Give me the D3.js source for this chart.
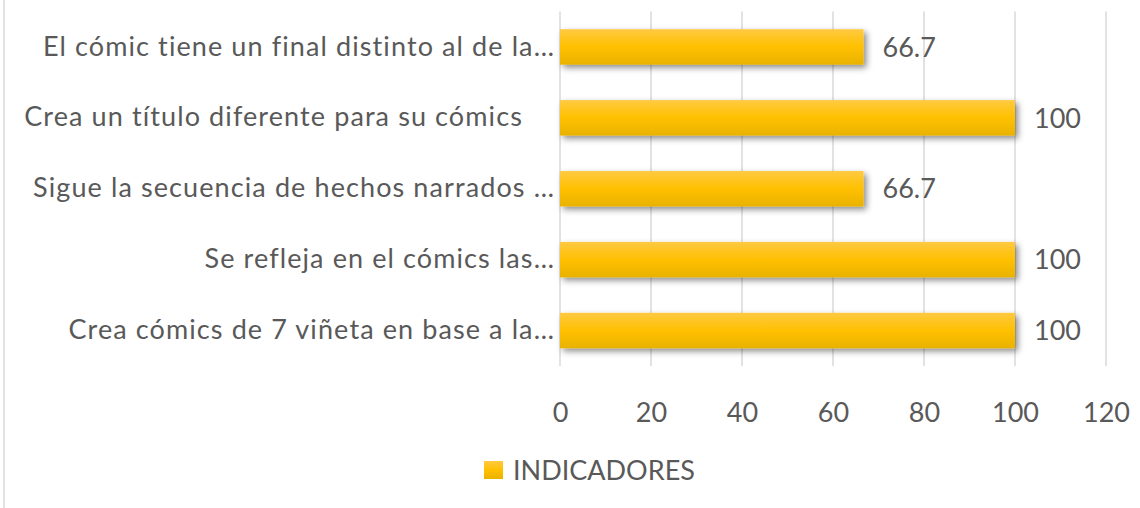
<!DOCTYPE html>
<html>
<head>
<meta charset="utf-8">
<script src="https://cdn.jsdelivr.net/npm/d3@7"></script>
<style>
  body { margin: 0; background: #fff; }
  svg { display: block; font-family: Lato, "Open Sans", sans-serif; }
  .lbl { fill: #595959; font-size: 27px; white-space: pre; }
  .cat { letter-spacing: 1.1px; }
</style>
</head>
<body>
<svg id="chart" width="1140" height="508"></svg>
<script>
const categories = [
  'El cómic tiene un final distinto al de la…',
  'Crea un título diferente para su cómics    ',
  'Sigue la secuencia de hechos narrados …',
  'Se refleja en el cómics las…',
  'Crea cómics de 7 viñeta en base a la…'
];
const values = [66.7, 100, 66.7, 100, 100];
const valueLabels = ['66.7', '100', '66.7', '100', '100'];
const xTicks = [0, 20, 40, 60, 80, 100, 120];
const seriesName = 'INDICADORES';

const PLOT = { left: 560, right: 1106, top: 11.5, bottom: 366 };

const svg = d3.select('#chart');

// outer chart border (only the left edge is inside the picture)
svg.append('line')
  .attr('x1', 4).attr('x2', 4).attr('y1', 0).attr('y2', 508)
  .attr('stroke', '#d9d9d9').attr('stroke-width', 1.5);

const defs = svg.append('defs');
const grad = defs.append('linearGradient')
  .attr('id', 'gold').attr('x1', 0).attr('x2', 0).attr('y1', 0).attr('y2', 1);
grad.append('stop').attr('offset', '0%').attr('stop-color', '#ffc941');
grad.append('stop').attr('offset', '50%').attr('stop-color', '#ffc000');
grad.append('stop').attr('offset', '100%').attr('stop-color', '#e9b200');

const shadow = defs.append('filter').attr('id', 'shadow')
  .attr('x', '-5%').attr('y', '-30%').attr('width', '115%').attr('height', '190%');
shadow.append('feDropShadow')
  .attr('dx', 3).attr('dy', 3).attr('stdDeviation', 3)
  .attr('flood-color', '#000').attr('flood-opacity', 0.45);

const x = d3.scaleLinear().domain([0, 120]).range([PLOT.left, PLOT.right]);
const y = d3.scaleBand().domain(categories).range([PLOT.top, PLOT.bottom])
  .paddingInner(0.5).paddingOuter(0.25);

// gridlines
svg.append('g')
  .selectAll('line')
  .data(xTicks)
  .join('line')
  .attr('x1', d => x(d)).attr('x2', d => x(d))
  .attr('y1', PLOT.top).attr('y2', PLOT.bottom)
  .attr('stroke', '#d9d9d9').attr('stroke-width', 1.5);

// bars
svg.append('g')
  .selectAll('rect')
  .data(categories)
  .join('rect')
  .attr('x', x(0))
  .attr('y', d => y(d))
  .attr('width', (d, i) => x(values[i]) - x(0))
  .attr('height', y.bandwidth())
  .attr('fill', 'url(#gold)')
  .attr('filter', 'url(#shadow)');

// value labels
svg.append('g')
  .selectAll('text')
  .data(categories)
  .join('text')
  .attr('class', 'lbl')
  .attr('x', (d, i) => x(values[i]) + 19)
  .attr('y', d => y(d) + y.bandwidth() / 2)
  .attr('dy', '0.36em')
  .text((d, i) => valueLabels[i]);

// y axis (category labels)
const axisY = d3.axisLeft(y).tickSize(0).tickPadding(5);
svg.append('g')
  .attr('transform', `translate(${PLOT.left},0)`)
  .call(axisY)
  .call(g => g.select('.domain').remove())
  .selectAll('text')
  .attr('class', 'lbl cat')
  .attr('fill', null)
  .style('font-family', 'Lato, "Open Sans", sans-serif');

// x axis
const axisX = d3.axisBottom(x).tickValues(xTicks).tickSize(0).tickPadding(37);
svg.append('g')
  .attr('transform', `translate(0,${PLOT.bottom})`)
  .call(axisX)
  .call(g => g.select('.domain').remove())
  .selectAll('text')
  .attr('class', 'lbl')
  .attr('fill', null)
  .style('font-family', 'Lato, "Open Sans", sans-serif');

// legend
const legend = svg.append('g').attr('transform', 'translate(484,461)');
legend.append('rect')
  .attr('width', 19).attr('height', 18)
  .attr('fill', 'url(#gold)');
legend.append('text')
  .attr('class', 'lbl')
  .attr('x', 29).attr('y', 9)
  .attr('dy', '0.36em')
  .text(seriesName);
</script>
</body>
</html>
